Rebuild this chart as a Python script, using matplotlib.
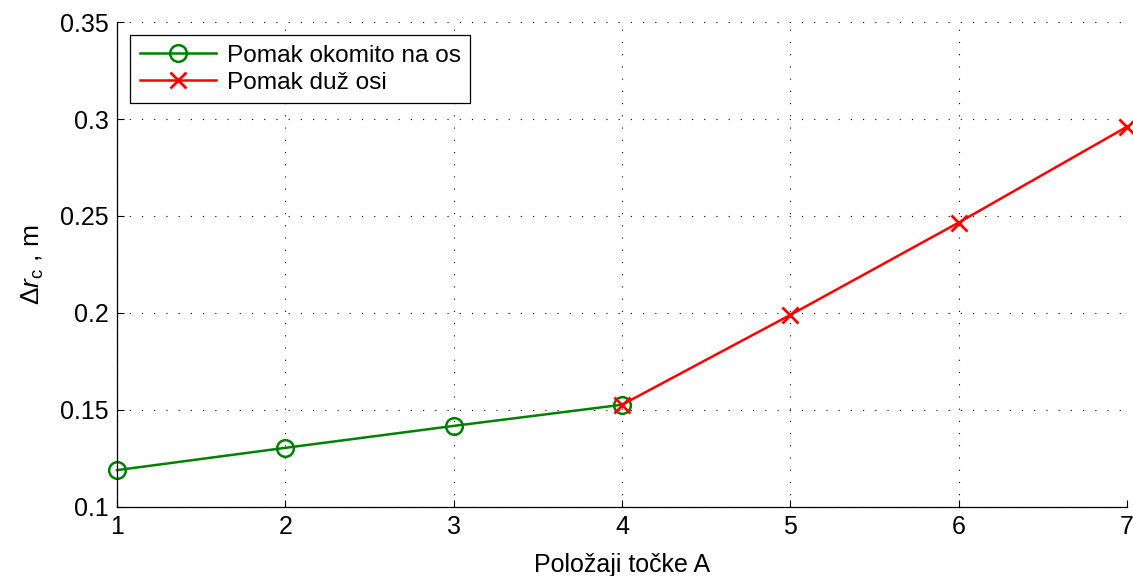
import matplotlib
matplotlib.use('Agg')
import matplotlib.pyplot as plt

plt.rcParams['font.family'] = ['Liberation Sans', 'DejaVu Sans']
plt.rcParams['mathtext.fontset'] = 'custom'
plt.rcParams['mathtext.rm'] = 'Liberation Sans'
plt.rcParams['mathtext.it'] = 'Liberation Sans:italic'

# perpendicular displacement (positions 1-4) and along-axis displacement (4-7)
x_okomito = [1, 2, 3, 4]
dr_okomito = [0.119, 0.1305, 0.1418, 0.1527]
x_duz = [4, 5, 6, 7]
dr_duz = [0.1527, 0.1990, 0.2466, 0.2960]

labels = ['Pomak okomito na os', 'Pomak duž osi']
xticks = [1, 2, 3, 4, 5, 6, 7]
yticks = [0.1, 0.15, 0.2, 0.25, 0.3, 0.35]

fig = plt.figure(figsize=(11.33, 5.76), dpi=100)
ax = fig.add_axes([0.1033, 0.1198, 0.8914, 0.842])

ax.plot(x_okomito, dr_okomito, color='#008000', lw=1.8, marker='o', ms=12,
        mfc='none', mew=1.8, label=labels[0], clip_on=False)
ax.plot(x_duz, dr_duz, color='#ff0000', lw=1.8, marker='x', ms=11,
        mew=2.0, label=labels[1], clip_on=False)

ax.set_xlim(1, 7)
ax.set_ylim(0.1, 0.35)
ax.set_xticks(xticks)
ax.set_yticks(yticks)
ax.set_yticklabels(['0.1', '0.15', '0.2', '0.25', '0.3', '0.35'])
ax.tick_params(direction='in', labelsize=18, length=5, width=0.8, pad=6)
ax.grid(True, color='black', linestyle=(0, (1, 10)), linewidth=0.8)
ax.spines['top'].set_visible(False)
ax.spines['right'].set_visible(False)
for s in ('left', 'bottom'):
    ax.spines[s].set_linewidth(0.9)

ax.set_xlabel('Položaji točke A', fontsize=18, labelpad=10)
ax.set_ylabel(r'$\Delta\mathit{r}_{\mathrm{c}}$ , m', fontsize=19, labelpad=10)

leg = ax.legend(loc='upper left', fontsize=17.6, handlelength=3.1,
                fancybox=False, edgecolor='black', framealpha=1,
                borderpad=0.38, labelspacing=0.2, handletextpad=0.45,
                bbox_to_anchor=(0.0, 1.0), borderaxespad=0.55)
leg.get_frame().set_linewidth(0.9)

fig.savefig('out.png', dpi=100)
